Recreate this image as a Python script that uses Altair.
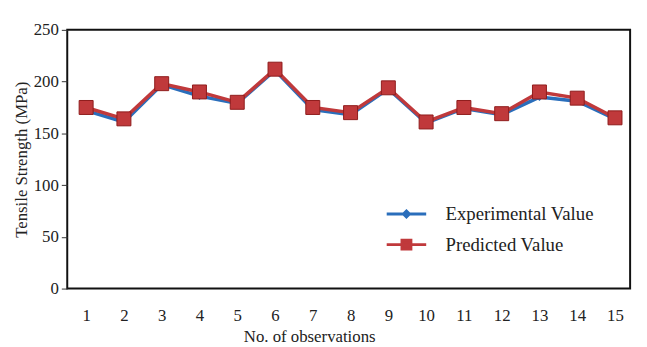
import altair as alt
import pandas as pd

observations = list(range(1, 16))
experimental = [172, 161, 197, 186, 179, 211, 173, 168, 193, 160, 174, 168, 185, 181, 164]
predicted = [175, 164, 198, 190, 180, 212, 175, 170, 194, 161, 175, 169, 190, 184, 165]
series_names = ["Experimental Value", "Predicted Value"]
series_colors = ["#2a6ebb", "#c0393b"]
y_ticks = [0, 50, 100, 150, 200, 250]

df = pd.DataFrame({
    "obs": observations * 2,
    "value": experimental + predicted,
    "series": [series_names[0]] * len(observations) + [series_names[1]] * len(observations),
})

FONT = "Liberation Serif"
# legend glyphs: a line with a marker in the middle
line_diamond = "M-2,0L2,0M0,-0.3L0.3,0L0,0.3L-0.3,0Z"
line_square = "M-2,0L2,0M-0.45,-0.45L0.45,-0.45L0.45,0.45L-0.45,0.45Z"

legend = alt.Legend(
    title=None, orient="none", legendX=332, legendY=175,
    symbolSize=400, labelOffset=28, rowPadding=9,
    labelFont=FONT, labelFontSize=19, labelColor="#222",
    symbolStrokeWidth=3, symbolOpacity=1,
)
col_scale = alt.Scale(domain=series_names, range=series_colors)

x_enc = alt.X("obs:Q", scale=alt.Scale(domain=[0.5, 15.4], nice=False, zero=False),
              axis=alt.Axis(values=observations, format="d", ticks=False, domain=False, grid=False,
                            labelPadding=19, title="No. of observations", titlePadding=6,
                            titleX=245))
y_enc = alt.Y("value:Q", scale=alt.Scale(domain=[0, 250], nice=False),
              axis=alt.Axis(values=y_ticks, tickSize=6, domain=False, grid=False, labelPadding=3,
                            title="Tensile Strength (MPa)", titlePadding=3, tickColor="#333"))

base = alt.Chart(df).encode(x=x_enc, y=y_enc)
stroke_enc = alt.Stroke("series:N", scale=col_scale, legend=legend)
fill_enc = alt.Fill("series:N", scale=col_scale, legend=legend)

# invisible layer that only feeds the legend (line + marker glyph)
legend_layer = base.mark_point(opacity=0, strokeWidth=3, size=400).encode(
    stroke=stroke_enc, fill=fill_enc,
    shape=alt.Shape("series:N", scale=alt.Scale(domain=series_names, range=[line_diamond, line_square]),
                    legend=legend),
)

exp = base.transform_filter(alt.datum.series == series_names[0])
pred = base.transform_filter(alt.datum.series == series_names[1])

exp_line = exp.mark_line(strokeWidth=3.5).encode(stroke=stroke_enc)
exp_pts = exp.mark_point(shape="diamond", size=60, opacity=1, strokeWidth=0).encode(fill=fill_enc)
pred_line = pred.mark_line(strokeWidth=3.5).encode(stroke=stroke_enc)
pred_pts = pred.mark_point(shape="square", size=200, opacity=1, stroke="#8e1b1b", strokeWidth=1).encode(fill=fill_enc)

chart = alt.layer(legend_layer, exp_line, exp_pts, pred_line, pred_pts).properties(
    width=570, height=262,
    autosize=alt.AutoSizeParams(type="none"),
    padding={"left": 60, "top": 20, "right": 9, "bottom": 55},
).configure_view(stroke="#111", strokeWidth=2).configure_axis(
    labelFont=FONT, labelFontSize=17, labelColor="#222",
    titleFont=FONT, titleFontSize=17, titleFontWeight="normal", titleColor="#222",
)

chart.save("out.html", embed_options={"renderer": "svg", "actions": False})
